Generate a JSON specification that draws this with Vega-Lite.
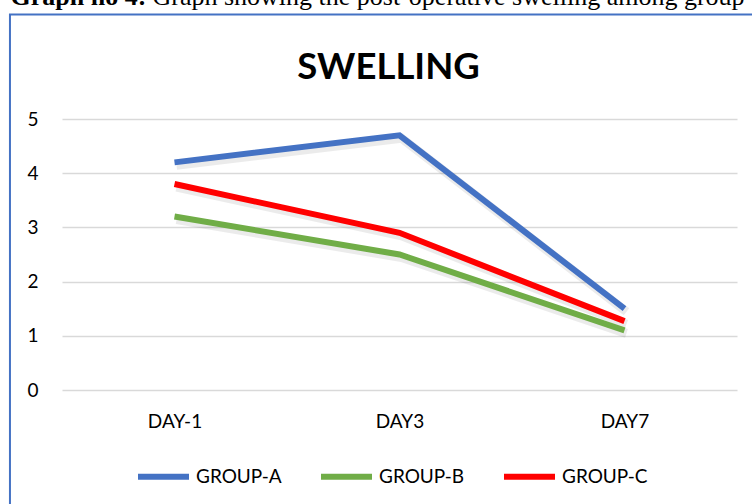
{
  "$schema": "https://vega.github.io/schema/vega-lite/v6.json",
  "width": 675,
  "height": 271,
  "autosize": {"type": "none"},
  "padding": {"left": 62, "top": 119, "right": 15, "bottom": 114},
  "background": "white",
  "config": {
    "view": {"stroke": null},
    "font": "Lato"
  },
  "datasets": {
    "swelling": [
      {"day": "DAY-1", "group": "GROUP-A", "swelling": 4.2},
      {"day": "DAY3", "group": "GROUP-A", "swelling": 4.7},
      {"day": "DAY7", "group": "GROUP-A", "swelling": 1.5},
      {"day": "DAY-1", "group": "GROUP-B", "swelling": 3.2},
      {"day": "DAY3", "group": "GROUP-B", "swelling": 2.5},
      {"day": "DAY7", "group": "GROUP-B", "swelling": 1.1},
      {"day": "DAY-1", "group": "GROUP-C", "swelling": 3.8},
      {"day": "DAY3", "group": "GROUP-C", "swelling": 2.9},
      {"day": "DAY7", "group": "GROUP-C", "swelling": 1.27}
    ]
  },
  "layer": [
    {
      "data": {"values": [{"frame": "box"}]},
      "mark": {"type": "rect", "fill": null, "stroke": "#4472C4", "strokeWidth": 2, "clip": false},
      "encoding": {
        "x": {
          "datum": -0.0771,
          "type": "quantitative",
          "scale": {"domain": [0, 1]},
          "axis": {
            "orient": "top",
            "title": "Graph showing the post-operative swelling among group",
            "titleFont": "Liberation Serif",
            "titleFontSize": 26,
            "titleFontWeight": "normal",
            "titleColor": "#000000",
            "titleAnchor": "start",
            "titleAlign": "left",
            "titleBaseline": "alphabetic",
            "titleX": 90,
            "titleY": -115,
            "labels": false,
            "ticks": false,
            "domain": false,
            "grid": false
          }
        },
        "x2": {"datum": 1.3},
        "y": {"datum": 1.3856, "type": "quantitative", "scale": {"domain": [0, 1]}, "axis": null},
        "y2": {"datum": -1}
      }
    },
    {
      "data": {"name": "swelling"},
      "mark": {"type": "line", "stroke": "#000000", "opacity": 0.08, "strokeWidth": 9, "xOffset": 2, "yOffset": 3, "strokeCap": "butt"},
      "encoding": {
        "x": {"field": "day", "type": "ordinal", "sort": ["DAY-1", "DAY3", "DAY7"], "axis": null},
        "y": {"field": "swelling", "type": "quantitative", "scale": {"domain": [0, 5]}, "axis": null},
        "detail": {"field": "group"}
      }
    },
    {
      "data": {"name": "swelling"},
      "mark": {"type": "line", "strokeWidth": 6, "strokeCap": "butt"},
      "encoding": {
        "x": {
          "field": "day",
          "type": "ordinal",
          "sort": ["DAY-1", "DAY3", "DAY7"],
          "axis": {
            "title": "SWELLING",
            "titleFont": "Lato",
            "titleFontSize": 36.5,
            "titleFontWeight": "bold",
            "titleColor": "#000000",
            "titleAlign": "center",
            "titleBaseline": "alphabetic",
            "titleX": 326,
            "titleY": -312,
            "labelAngle": 0,
            "labelFont": "Lato",
            "labelFontSize": 19,
            "labelColor": "#000000",
            "labelPadding": 22,
            "domain": false,
            "ticks": false,
            "grid": false
          }
        },
        "y": {
          "field": "swelling",
          "type": "quantitative",
          "scale": {"domain": [0, 5]},
          "axis": {
            "title": "Graph no 4:",
            "titleFont": "Liberation Serif",
            "titleFontSize": 26,
            "titleFontWeight": "bold",
            "titleColor": "#000000",
            "titleAngle": 0,
            "titleAlign": "left",
            "titleBaseline": "alphabetic",
            "titleX": -52,
            "titleY": -115,
            "values": [0, 1, 2, 3, 4, 5],
            "labelFont": "Lato",
            "labelFontSize": 19,
            "labelColor": "#000000",
            "labelPadding": 24,
            "domain": false,
            "ticks": false,
            "grid": true,
            "gridColor": "#d9d9d9",
            "gridWidth": 1.5
          }
        },
        "color": {
          "field": "group",
          "type": "nominal",
          "scale": {"domain": ["GROUP-A", "GROUP-B", "GROUP-C"], "range": ["#4472C4", "#70AD47", "#FF0000"]},
          "legend": {
            "title": null,
            "orient": "none",
            "legendX": 73,
            "legendY": 329,
            "direction": "horizontal",
            "symbolType": "stroke",
            "symbolSize": 2601,
            "symbolStrokeWidth": 6,
            "labelFont": "Lato",
            "labelFontSize": 19,
            "labelColor": "#000000",
            "labelOffset": 4,
            "columnPadding": 27
          }
        }
      }
    }
  ],
  "resolve": {"scale": {"x": "independent", "y": "independent"}}
}
